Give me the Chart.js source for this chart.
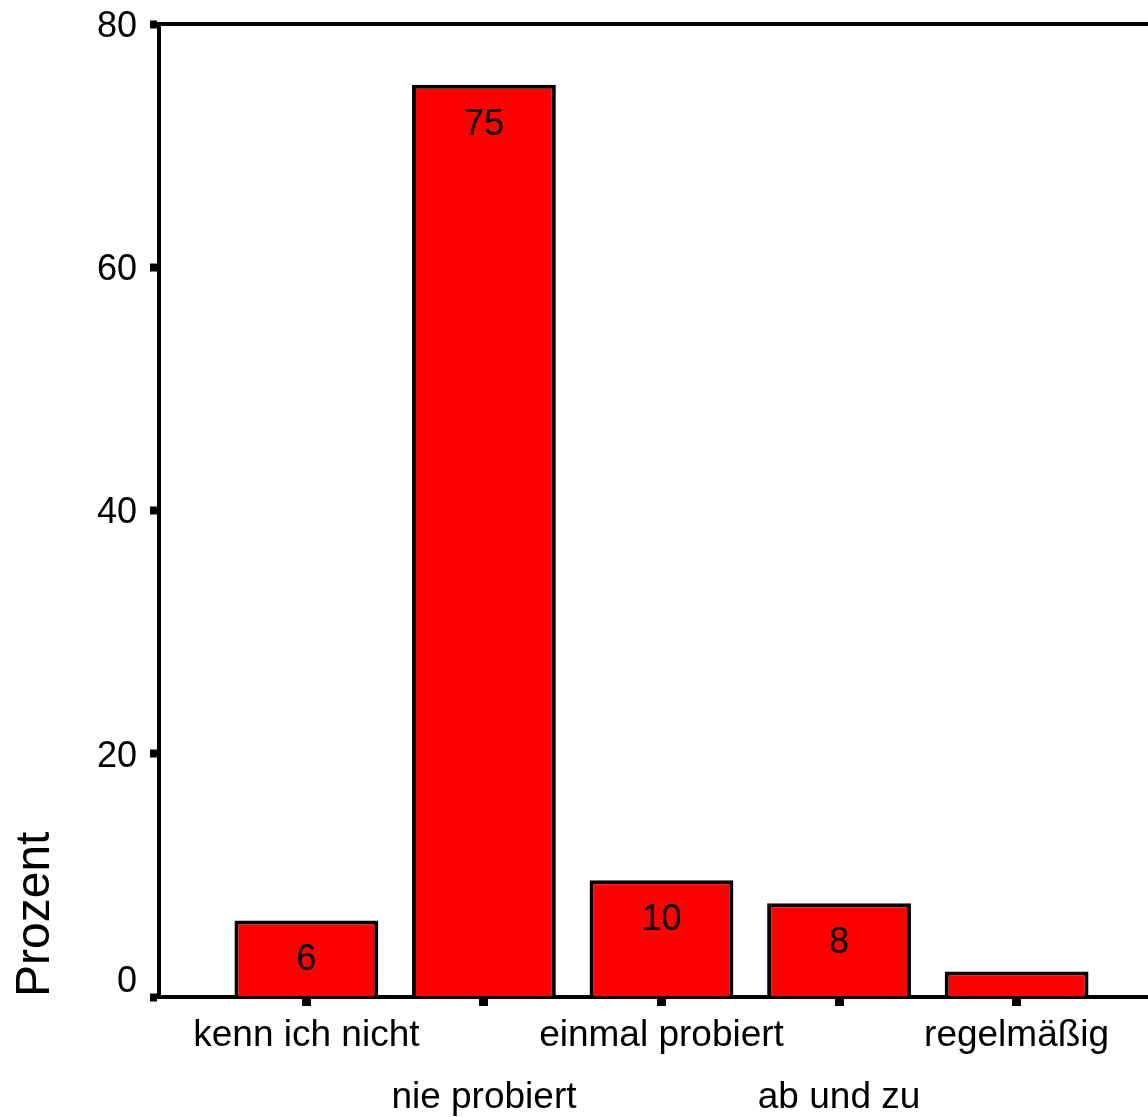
<!DOCTYPE html>
<html>

<head>
  <meta charset="utf-8">
  <script src="https://cdn.jsdelivr.net/npm/chart.js"></script>
  <style>
    body { margin: 0; background: #fff; overflow: hidden; }
  </style>
</head>

<body>
  <canvas id="chart" width="1148" height="1117"></canvas>
  <script>
    const categories = ['kenn ich nicht', 'nie probiert', 'einmal probiert', 'ab und zu', 'regelmäßig'];
    const percent = [6.3, 75.0, 9.6, 7.7, 2.1];
    const yTicks = [0, 20, 40, 60, 80];

    const fontFamily = '"Liberation Sans", Arial, Helvetica, sans-serif';

    // value printed inside the top of each bar (skipped when the bar is too short)
    const barLabels = {
      id: 'barLabels',
      afterDatasetsDraw(chart) {
        const ctx = chart.ctx;
        ctx.save();
        ctx.font = '36px ' + fontFamily;
        ctx.fillStyle = '#000';
        ctx.textAlign = 'center';
        ctx.textBaseline = 'middle';
        chart.getDatasetMeta(0).data.forEach((bar, i) => {
          if (bar.base - bar.y < 50) return;
          ctx.fillText(Math.round(percent[i]), bar.x, bar.y + 40);
        });
        ctx.restore();
      }
    };

    // frame line along the top of the plot
    const topLine = {
      id: 'topLine',
      afterDraw(chart) {
        const { ctx, chartArea: a } = chart;
        ctx.save();
        ctx.strokeStyle = '#000';
        ctx.lineWidth = 4;
        ctx.beginPath();
        ctx.moveTo(a.left - 2, a.top);
        ctx.lineTo(a.right, a.top);
        ctx.stroke();
        ctx.restore();
      }
    };

    new Chart('chart', {
      type: 'bar',
      data: {
        datasets: [{
          data: percent.map((v, i) => ({ x: i + 1, y: v })),
          backgroundColor: '#ff0000',
          borderColor: '#000',
          borderWidth: 4,
          barPercentage: 0.81,
          categoryPercentage: 1
        }]
      },
      options: {
        responsive: false,
        animation: false,
        layout: { padding: { top: 24, left: 0, right: 0, bottom: 0 } },
        plugins: { legend: { display: false }, tooltip: { enabled: false } },
        scales: {
          x: {
            type: 'linear',
            min: 0.17,
            max: 5.74,
            offset: false,
            afterBuildTicks: s => { s.ticks = categories.map((c, i) => ({ value: i + 1 })); },
            afterFit: s => { s.height = 120; },
            ticks: {
              autoSkip: false,
              maxRotation: 0,
              padding: -1,
              color: '#000',
              font: { family: fontFamily, size: 37, lineHeight: 1.68 },
              callback: (v, i) => i % 2 ? ['', categories[v - 1]] : categories[v - 1]
            },
            grid: { offset: false, drawOnChartArea: false, tickLength: 9, tickWidth: 9, tickColor: '#000' },
            border: { color: '#000', width: 4 }
          },
          y: {
            min: 0,
            max: 80,
            afterBuildTicks: s => { s.ticks = yTicks.map(v => ({ value: v })); },
            afterFit: s => { s.width = 159; s.paddingTop = 0; s.paddingBottom = 0; },
            ticks: {
              padding: 13,
              labelOffset: 3,
              color: '#000',
              font: { family: fontFamily, size: 36, lineHeight: 1 },
              callback: v => v === 0 ? ['0', ''] : String(v)
            },
            grid: { drawOnChartArea: false, tickLength: 9, tickWidth: 8, tickColor: '#000' },
            border: { color: '#000', width: 4 },
            title: {
              display: true,
              text: 'Prozent',
              align: 'start',
              color: '#000',
              font: { family: fontFamily, size: 48 },
              padding: { top: 7, bottom: 0 }
            }
          }
        }
      },
      plugins: [barLabels, topLine]
    });
  </script>
</body>

</html>
